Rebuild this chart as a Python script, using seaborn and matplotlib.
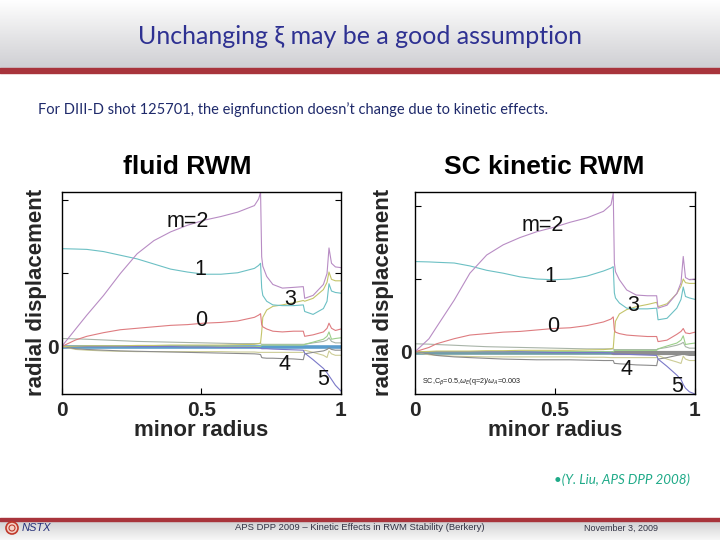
import numpy as np
import pandas as pd
import matplotlib
matplotlib.use("Agg")
import matplotlib.pyplot as plt
import seaborn as sns
from matplotlib.patches import Circle
from matplotlib.colors import LinearSegmentedColormap

# ---------------- data ----------------
# fluid RWM
x_fluid = [0, .05, .09, .15, .21, .27, .33, .39, .45, .51, .57, .63, .69, .705, .712,
           .716, .72, .734, .756, .79, .83, .865, .87, .90, .937, .95, .957, .966, .98, 1.0]
fluid_m2 = [0, .24, .43, .70, 1.0, 1.27, 1.45, 1.57, 1.66, 1.73, 1.78, 1.84, 1.93, 2.02, 2.11,
            1.23, 1.10, .96, .85, .80, .81, .82, .66, .70, .85, 1.0, 1.35, 1.14, 1.09, 1.08]
fluid_m1 = [1.34, 1.335, 1.33, 1.30, 1.25, 1.20, 1.13, 1.06, 1.02, .99, .99, 1.01, 1.07, 1.11, 1.14,
            .80, .70, .62, .57, .56, .56, .57, .48, .44, .52, .62, .86, .76, .74, .73]
fluid_m0 = [0, .09, .14, .19, .23, .25, .27, .29, .30, .32, .33, .35, .40, .43, .45,
            .30, .27, .24, .21, .20, .21, .21, .14, .16, .20, .25, .32, .25, .22, .24]
fluid_m3 = [0, .005, .01, .01, .01, .015, .015, .02, .02, .02, .02, .025, .03, .04, .05,
            .20, .40, .50, .55, .57, .60, .63, .62, .66, .78, .88, 1.02, .92, .90, .90]
fluid_m4 = [0, -.03, -.04, -.05, -.06, -.065, -.07, -.075, -.08, -.085, -.09, -.095, -.10, -.105, -.11,
            -.15, -.155, -.16, -.16, -.165, -.17, -.18, -.10, -.08, -.06, -.04, -.02, -.04, -.05, -.05]
fluid_m5 = [0, 0, 0, 0, 0, 0, 0, 0, -.005, -.005, -.01, -.01, -.01, -.015, -.02,
            -.03, -.03, -.03, -.035, -.04, -.045, -.05, -.09, -.18, -.30, -.36, -.40, -.45, -.53, -.61]
fluid_mm1 = [.11, .105, .10, .09, .08, .07, .065, .06, .055, .05, .045, .04, .04, .04, .04,
             .03, .03, .03, .03, .03, .03, .03, .03, .05, .07, .09, .12, .07, .05, .05]
fluid_mm2 = [0, -.04, -.05, -.06, -.065, -.07, -.07, -.07, -.07, -.07, -.07, -.075, -.075, -.08, -.08,
             -.08, -.08, -.08, -.08, -.08, -.08, -.08, -.05, -.08, -.12, -.15, -.06, -.10, -.12, -.12]
fluid_m6 = [0, 0, 0, 0, 0, 0, 0, 0, 0, 0, 0, 0, 0, 0, 0,
            .02, .02, .02, .02, .02, .02, .02, .03, .06, .10, .14, .20, .10, .11, .12]
fluid_high = [-.01] * 30

# SC kinetic RWM
x_kin = [0, .05, .077, .14, .196, .256, .315, .375, .435, .495, .554, .614, .673, .70, .708,
         .712, .716, .73, .756, .79, .83, .863, .868, .90, .935, .95, .958, .966, .98, 1.0]
kin_m2 = [0, .18, .34, .71, 1.08, 1.33, 1.47, 1.57, 1.65, 1.71, 1.78, 1.84, 1.93, 2.02, 2.18,
          1.22, 1.10, .99, .85, .78, .77, .77, .60, .64, .80, .95, 1.31, 1.02, .99, 1.0]
kin_m1 = [1.24, 1.235, 1.23, 1.22, 1.18, 1.12, 1.08, 1.03, 1.0, .99, 1.0, 1.04, 1.11, 1.15, 1.17,
          .81, .74, .67, .60, .59, .59, .60, .44, .46, .60, .72, .89, .76, .74, .72]
kin_m0 = [0, .06, .11, .18, .23, .25, .27, .28, .30, .32, .33, .36, .41, .45, .48,
          .30, .27, .25, .23, .22, .21, .21, .14, .16, .24, .28, .32, .26, .25, .27]
kin_m3 = [0, .005, .01, .01, .01, .015, .015, .02, .02, .02, .02, .025, .03, .04, .05,
          .25, .42, .52, .58, .62, .65, .68, .62, .66, .80, .90, 1.00, .95, .94, .94]
kin_m4 = [0, -.03, -.05, -.07, -.08, -.09, -.10, -.105, -.11, -.11, -.11, -.115, -.12, -.12, -.12,
          -.16, -.16, -.165, -.17, -.18, -.185, -.19, -.10, -.08, -.05, -.04, -.02, -.04, -.05, -.05]
kin_m5 = [0, 0, 0, 0, 0, 0, 0, 0, -.005, -.01, -.01, -.01, -.01, -.015, -.02,
          -.03, -.03, -.03, -.035, -.04, -.045, -.05, -.10, -.20, -.32, -.38, -.45, -.50, -.55, -.58]
kin_mm1 = [.11, .105, .10, .09, .08, .07, .065, .06, .055, .05, .045, .04, .04, .04, .04,
           .03, .03, .03, .03, .03, .03, .03, .04, .06, .09, .11, .13, .07, .05, .05]
kin_mm2 = [0, -.04, -.05, -.06, -.065, -.07, -.07, -.07, -.07, -.07, -.07, -.075, -.075, -.08, -.08,
           -.08, -.08, -.08, -.08, -.08, -.08, -.08, -.05, -.10, -.14, -.16, -.06, -.10, -.12, -.12]
kin_m6 = [0, 0, 0, 0, 0, 0, 0, 0, 0, 0, 0, 0, 0, 0, 0,
          .02, .02, .02, .02, .02, .02, .02, .04, .08, .12, .16, .22, .10, .11, .12]
kin_high = [-.01] * 30

x_ticks = [0, 0.5, 1]
x_tick_labels = ["0", "0.5", "1"]
y_ticks = [0, 1, 2]
y_tick_labels = ["0", "", ""]

label_texts = ["m=2", "1", "3", "0", "4", "5"]
fluid_label_x = [0.453, 0.495, 0.817, 0.501, 0.799, 0.937]
fluid_label_y = [1.71, 1.05, 0.64, 0.36, -0.25, -0.45]
kin_label_x = [0.458, 0.482, 0.78, 0.492, 0.756, 0.935]
kin_label_y = [1.73, 1.04, 0.63, 0.35, -0.24, -0.48]

palette = {"m2": "#b88cc4", "m1": "#6cc0c4", "m0": "#de7c80", "m3": "#c4c46a",
           "m4": "#8c8c8c", "m5": "#7a78c8", "m-1": "#a8b4a8", "m-2": "#cccc96",
           "m6": "#9ccf8a"}

# ---------------- style ----------------
sns.set_theme(style="white")
plt.rcParams["font.family"] = ["Liberation Sans", "DejaVu Sans"]

fig = plt.figure(figsize=(7.2, 5.4), dpi=100)

# slide background
bg = fig.add_axes([0, 0, 1, 1], zorder=-5)
bg.set_xlim(0, 720)
bg.set_ylim(540, 0)
bg.axis("off")
grad = np.linspace(0, 1, 256).reshape(-1, 1)
hdr_cmap = LinearSegmentedColormap.from_list("hdr", ["#ffffff", "#e6e6e8", "#cfcfd3"])
bg.imshow(grad, aspect="auto", cmap=hdr_cmap, extent=[0, 720, 68, 0], zorder=0)
bg.fill_between([0, 720], 68, 72.5, color="#a8343c", zorder=1)
ftr_cmap = LinearSegmentedColormap.from_list("ftr", ["#cfcfd1", "#f7f7f7"])
bg.imshow(grad, aspect="auto", cmap=ftr_cmap, extent=[0, 720, 540, 520.5], zorder=0)
bg.fill_between([0, 720], 517.5, 520.5, color="#a8343c", zorder=1)
bg.add_patch(Circle((12, 528), 6, facecolor="#f4d2c8", edgecolor="#c0392b", lw=1.2, zorder=2))
bg.add_patch(Circle((12, 528), 3, facecolor="none", edgecolor="#c0392b", lw=0.8, zorder=2))

fig.text(0.5, 1 - 36 / 540, "Unchanging ξ may be a good assumption", ha="center", va="center",
         fontsize=18, color="#2e3192", family=["Lato", "DejaVu Sans"])
fig.text(38 / 720, 1 - 110 / 540,
         "For DIII-D shot 125701, the eignfunction doesn\u2019t change due to kinetic effects.",
         ha="left", va="center", fontsize=10.5, color="#1f2a6b", family=["Lato", "DejaVu Sans"])
fig.text(690 / 720, 1 - 480 / 540, "\u2022(Y. Liu, APS DPP 2008)", ha="right", va="center",
         fontsize=9.6, color="#1faa88", style="italic", family=["Lato", "DejaVu Sans"])
fig.text(22 / 720, 1 - 528 / 540, "NSTX", ha="left", va="center", fontsize=8,
         color="#26307a", style="italic")
fig.text(360 / 720, 1 - 528 / 540, "APS DPP 2009 \u2013 Kinetic Effects in RWM Stability (Berkery)",
         ha="center", va="center", fontsize=6.8, color="#333344")
fig.text(621 / 720, 1 - 528 / 540, "November 3, 2009", ha="center", va="center",
         fontsize=6.5, color="#333344")


def make_df(x, cols):
    rows = []
    for name, vals in cols.items():
        for xi, yi in zip(x, vals):
            rows.append({"r": xi, "xi": yi, "mode": name})
    return pd.DataFrame(rows)


panels = [
    dict(rect=[61.7 / 720, 1 - 394 / 540, 279.3 / 720, 202.3 / 540], ylim=(-0.65, 2.12),
         x=x_fluid, cols={"m-1": fluid_mm1, "m-2": fluid_mm2, "m6": fluid_m6, "m4": fluid_m4,
                          "m5": fluid_m5, "m3": fluid_m3, "m0": fluid_m0, "m1": fluid_m1, "m2": fluid_m2},
         high=fluid_high, high_color="#5a9ccc", title="fluid RWM", title_x=187.5,
         lx=fluid_label_x, ly=fluid_label_y, ylab_x=-0.092),
    dict(rect=[415 / 720, 1 - 394 / 540, 280 / 720, 202.3 / 540], ylim=(-0.58, 2.2),
         x=x_kin, cols={"m-1": kin_mm1, "m-2": kin_mm2, "m6": kin_m6, "m4": kin_m4,
                        "m5": kin_m5, "m3": kin_m3, "m0": kin_m0, "m1": kin_m1, "m2": kin_m2},
         high=kin_high, high_color="#6f9ea6", title="SC kinetic RWM", title_x=544,
         lx=kin_label_x, ly=kin_label_y, ylab_x=-0.111),
]

for i, p in enumerate(panels):
    ax = fig.add_axes(p["rect"])
    df = make_df(p["x"], p["cols"])
    sns.lineplot(data=df, x="r", y="xi", hue="mode", palette=palette, linewidth=0.8,
                 legend=False, estimator=None, sort=False, ax=ax)
    hdf = pd.DataFrame({"r": p["x"], "xi": p["high"]})
    sns.lineplot(data=hdf, x="r", y="xi", color=p["high_color"], linewidth=2.6,
                 estimator=None, sort=False, ax=ax, zorder=1.5)
    if i == 1:
        gdf = hdf[hdf["r"] >= 0.708]
        sns.lineplot(data=gdf, x="r", y="xi", color="#8e8e8e", linewidth=3.0,
                     estimator=None, sort=False, ax=ax, zorder=1.6)
    ax.set_xlim(0, 1)
    ax.set_ylim(*p["ylim"])
    ax.set_xticks(x_ticks)
    ax.set_xticklabels(x_tick_labels, fontsize=15, fontweight="bold")
    ax.set_yticks(y_ticks)
    ax.set_yticklabels(y_tick_labels, fontsize=15, fontweight="bold")
    ax.tick_params(direction="in", length=4, width=0.8, right=True, left=True,
                   bottom=True, top=False, color="black", pad=2)
    ax.tick_params(axis="x", pad=5)
    for s in ax.spines.values():
        s.set_color("black")
        s.set_linewidth(1.0)
    ax.set_xlabel("minor radius", fontsize=16, fontweight="bold", va="center")
    ax.xaxis.set_label_coords(0.5, -0.178)
    ax.set_ylabel("radial displacement", fontsize=16, fontweight="bold", va="center")
    ax.yaxis.set_label_coords(p["ylab_x"], 0.502)
    for t, lx, ly in zip(label_texts, p["lx"], p["ly"]):
        ax.text(lx, ly, t, fontsize=15.5, ha="center", va="center", color="#111111")
    fig.text(p["title_x"] / 720, 1 - 167 / 540, p["title"], ha="center", va="center",
             fontsize=19, fontweight="bold", color="black")
    if i == 1:
        ax.text(0.025, 0.06, r"SC,C$_\beta$=0.5,$\omega_E$(q=2)/$\omega_A$=0.003",
                transform=ax.transAxes, fontsize=5.2, ha="left", va="center", color="#222222")

fig.savefig("out.png", dpi=100)
